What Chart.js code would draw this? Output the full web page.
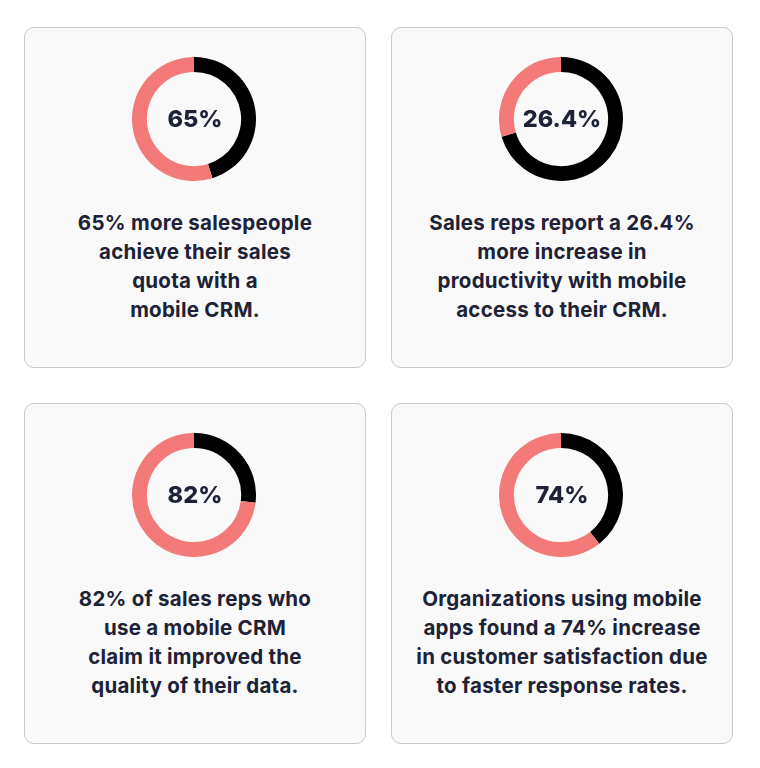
<!DOCTYPE html>
<html>
<head>
<meta charset="utf-8">
<script src="https://cdn.jsdelivr.net/npm/chart.js@4/dist/chart.umd.min.js"></script>
<style>
  html, body { margin: 0; padding: 0; background: #ffffff; }
  body { width: 760px; height: 768px; position: relative; overflow: hidden;
         font-family: "Inter", "Lato", sans-serif; }
  .card { position: absolute; box-sizing: border-box; width: 342px; height: 341px;
          background: #f9f9f9; border: 1px solid #c9c9c9; border-radius: 10px; }
  .donut { position: absolute; left: 50%; top: 29px; width: 124px; height: 124px;
           margin-left: -63px; }
  .donut canvas { display: block; }
  .caption { position: absolute; left: -10px; right: -10px; top: 180px; text-align: center;
             font-weight: 700; font-size: 20.5px; line-height: 29px; color: #1d2236;
             letter-spacing: 0.25px; }
</style>
</head>
<body>
<div id="root"></div>
<script>
// ---- data ----
const cardLabels = ["65%", "26.4%", "82%", "74%"];
const blackShare = [45.2, 70.4, 27.0, 39.4];
const salmonShare = [54.8, 29.6, 73.0, 60.6];
const captionLines = [
  ["65% more salespeople", "achieve their sales", "quota with a", "mobile CRM."],
  ["Sales reps report a 26.4%", "more increase in", "productivity with mobile", "access to their CRM."],
  ["82% of sales reps who", "use a mobile CRM", "claim it improved the", "quality of their data."],
  ["Organizations using mobile", "apps found a 74% increase", "in customer satisfaction due", "to faster response rates."]
];
const sliceColors = ["#000000", "#f47a7a"];

const cardPos = [[24, 27], [391, 27], [24, 403], [391, 403]];

const centerText = {
  id: "centerText",
  afterDraw(chart, args, opts) {
    const { ctx, chartArea } = chart;
    const cx = (chartArea.left + chartArea.right) / 2;
    const cy = (chartArea.top + chartArea.bottom) / 2;
    ctx.save();
    ctx.font = "800 23.5px Inter, Lato, sans-serif";
    ctx.fillStyle = "#1d2236";
    ctx.textAlign = "center";
    ctx.textBaseline = "middle";
    ctx.fillText(opts.text, cx + 1, cy + 1);
    ctx.restore();
  }
};

const root = document.getElementById("root");
cardLabels.forEach((label, i) => {
  const card = document.createElement("div");
  card.className = "card";
  card.style.left = cardPos[i][0] + "px";
  card.style.top = cardPos[i][1] + "px";
  const holder = document.createElement("div");
  holder.className = "donut";
  const canvas = document.createElement("canvas");
  canvas.width = 124; canvas.height = 124;
  holder.appendChild(canvas);
  card.appendChild(holder);
  const cap = document.createElement("div");
  cap.className = "caption";
  cap.innerHTML = captionLines[i].join("<br>");
  card.appendChild(cap);
  root.appendChild(card);

  new Chart(canvas, {
    type: "doughnut",
    data: {
      labels: ["A", "B"],
      datasets: [{
        data: [blackShare[i], salmonShare[i]],
        backgroundColor: sliceColors,
        borderWidth: 0
      }]
    },
    options: {
      responsive: false,
      animation: false,
      cutout: "76%",
      layout: { padding: 0 },
      plugins: {
        legend: { display: false },
        tooltip: { enabled: false },
        centerText: { text: label }
      }
    },
    plugins: [centerText]
  });
});
</script>
</body>
</html>
